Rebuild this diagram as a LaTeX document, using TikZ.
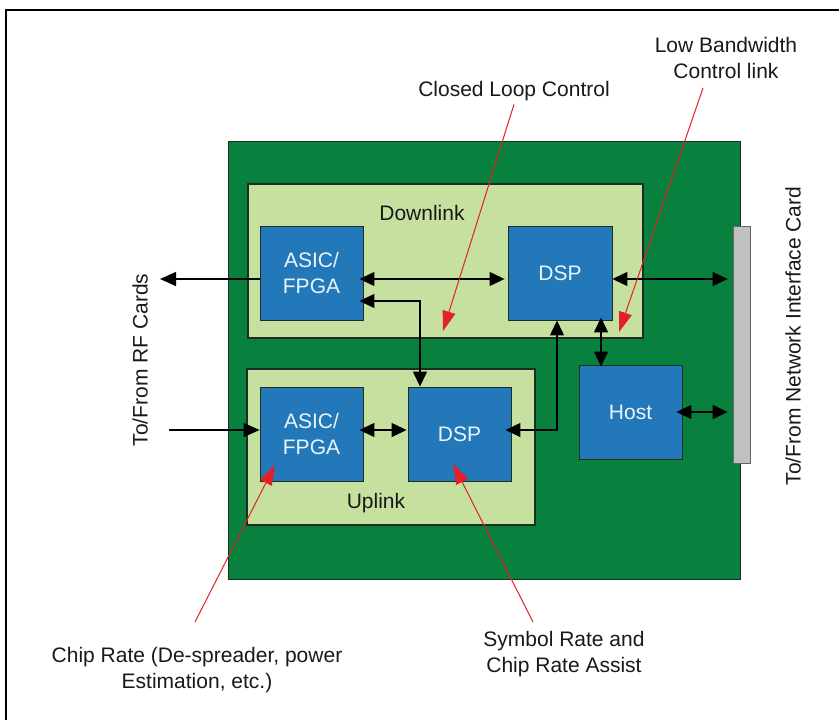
\documentclass[tikz,border=0pt]{standalone}
\usepackage{fontspec}
\setmainfont{Liberation Sans}
\usepackage{xcolor}
\usepackage{tikz}
\usetikzlibrary{arrows.meta,positioning}
\definecolor{boardgreen}{RGB}{8,128,62}
\definecolor{pathgreen}{RGB}{198,224,160}
\definecolor{chipblue}{RGB}{34,120,185}
\definecolor{edgedark}{RGB}{28,45,34}
\definecolor{notered}{RGB}{228,32,36}
\definecolor{bargray}{RGB}{192,192,192}
\definecolor{inkgray}{RGB}{25,25,25}
\newcommand{\diagfont}{\fontsize{21}{26}\selectfont}

\tikzset{
  board/.style={draw=edgedark, fill=boardgreen, line width=0.8pt, inner sep=0pt},
  pathbox/.style={draw=edgedark, fill=pathgreen, line width=1.2pt, inner sep=0pt},
  chip/.style={draw=edgedark, fill=chipblue, line width=0.9pt, minimum width=103pt, minimum height=94pt, inner sep=0pt, text=white!92!chipblue, align=center},
  txt/.style={text=inkgray, align=center},
  sig/.style={-{Triangle[length=16pt,width=14pt]}, line width=1.3pt, black},
  sigboth/.style={{Triangle[length=15pt,width=14pt]}-{Triangle[length=15pt,width=14pt]}, line width=1.3pt, black},
  note/.style={-{Triangle[length=20pt,width=13pt]}, line width=1pt, notered}
}

\begin{document}
\begin{tikzpicture}[x=1pt, y=-1pt, every node/.style={font=\diagfont}]
    \useasboundingbox (0,0) rectangle (839,720);
    % Frame
    \draw[line width=1.2pt, black] (6,740) -- (6,10) -- (860,10);

    % Board and paths
    \node[board, minimum width=512pt, minimum height=438pt] (board) at (484,360) {};
    \node[pathbox, minimum width=395pt, minimum height=154pt] (downPath) at (445.5,261) {};
    \node[pathbox, minimum width=288pt, minimum height=156pt] (upPath) at (391,447) {};
    \node[draw=black!60, fill=bargray, line width=0.8pt, minimum width=17pt, minimum height=237pt, inner sep=0pt] (nicBar) at (741.5,344.5) {};

    % Chips
    \node[chip] (asicDown) at (311.5,273) {ASIC/\\FPGA};
    \node[chip, minimum width=104pt] (dspDown) at (560,273) {DSP};
    \node[chip] (asicUp) at (311.5,434) {ASIC/\\FPGA};
    \node[chip] (dspUp) at (459.5,434) {DSP};
    \node[chip] (host) at (630.5,412) {Host};

    % Labels
    \node[txt] (downTxt) at (422,213) {Downlink};
    \node[txt] (upTxt) at (376,503) {Uplink};
    \node[txt, rotate=90] (rfTxt) at (140,360) {To/From RF Cards};
    \node[txt, rotate=90] (nicTxt) at (793,336) {To/From Network Interface Card};
    \node[txt] (loopTxt) at (514,91) {Closed Loop Control};
    \node[txt] (lowTxt) at (726,58) {Low Bandwidth\\Control link};
    \node[txt] (chipTxt) at (197,670) {Chip Rate (De-spreader, power\\Estimation, etc.)};
    \node[txt] (symTxt) at (564,654) {Symbol Rate and\\Chip Rate Assist};

    % Bends and ends
    \coordinate (rfOut) at (160,279);
    \coordinate (rfIn) at (169,430);
    \coordinate (dlBend) at (420,301);
    \coordinate (ulBend) at (557,430);
    \coordinate (hostTap) at (601,340);

    % Signal arrows
    \draw[sig] (asicDown.west |- rfOut) -- (rfOut);
    \draw[sigboth, shorten <=-4pt, shorten >=3pt] (asicDown.east |- rfOut) -- (dspDown.west |- rfOut);
    \draw[sigboth, shorten >=5pt] (dspDown.east |- rfOut) -- (nicBar.west |- rfOut);
    \draw[sigboth, shorten <=-4pt] (asicDown.east |- dlBend) -- (dlBend) -- (dlBend |- dspUp.north);
    \draw[sigboth, shorten <=-6pt] (dspUp.east |- ulBend) -- (ulBend) -- (ulBend |- dspDown.south);
    \draw[sigboth, shorten <=-3pt, shorten >=-2pt] (hostTap |- dspDown.south) -- (hostTap |- host.north);
    \draw[sigboth, shorten <=-6pt, shorten >=5pt] (host.east) -- (nicBar.west |- host.east);
    \draw[sig] (rfIn) -- (asicUp.west |- rfIn);
    \draw[sigboth, shorten <=-4pt, shorten >=1pt] (asicUp.east |- rfIn) -- (dspUp.west |- rfIn);

    % Notes
    \coordinate (loopTip) at (443,331);
    \coordinate (lowFrom) at (703,88);
    \coordinate (lowTip) at (619,332);
    \coordinate (chipFrom) at (195,622);
    \coordinate (chipTip) at (275,465);
    \coordinate (symFrom) at (533,622);
    \coordinate (symTip) at (453,464);
    \draw[note] (loopTxt.south) -- (loopTip);
    \draw[note] (lowFrom) -- (lowTip);
    \draw[note] (chipFrom) -- (chipTip);
    \draw[note] (symFrom) -- (symTip);
\end{tikzpicture}
\end{document}
